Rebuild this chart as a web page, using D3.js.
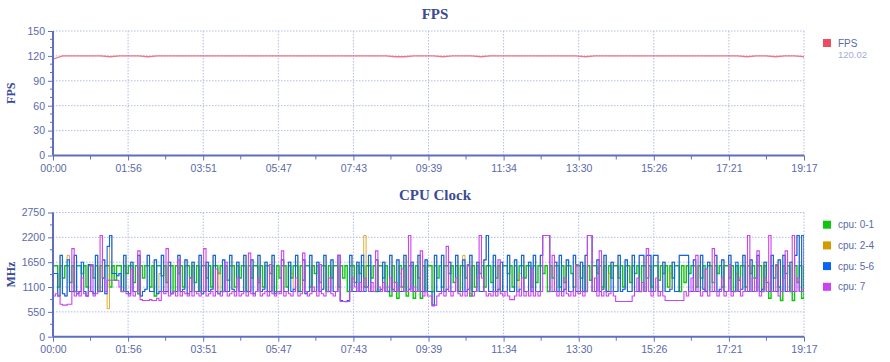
<!DOCTYPE html>
<html><head><meta charset="utf-8">
<script src="https://cdn.jsdelivr.net/npm/d3@7"></script>
<style>
html,body{margin:0;padding:0;background:#fff;}
svg{display:block;}
</style></head>
<body>
<svg id="c" width="890" height="362"></svg>
<script>
// ---------- DATA ----------
const durationSec = 1157;
const xTickSec = [0,115.7,231.4,347.1,462.8,578.5,694.2,809.9,925.6,1041.3,1157];
const xTickLabels = ["00:00","01:56","03:51","05:47","07:43","09:39","11:34","13:30","15:26","17:21","19:17"];
const fpsTicks = [0,30,60,90,120,150];
const cpuTicks = [0,550,1100,1650,2200,2750];
const fpsAvg = "120.02";

const fps = [116,120,120,120,120,120,119,120,120,120,119,120,120,120,120,120,120,120,120,120,
             120,120,120,120,120,120,120,120,120,120,120,120,120,120,120,120,119,119,120,120,
             120,119,120,120,120,119,120,120,120,120,120,120,120,120,120,120,119,120,120,120,
             120,120,120,120,120,120,120,120,120,120,120,120,120,119,120,120,119,120,120,119];

const cpu01 = [
1570,1570,1100,1570,1300,1570,1570,1200,1570,1000,1570,1570,1400,1570,1100,1570,1570,1300,1570,1000,
1570,1300,1570,1570,1100,1570,1250,1570,1570,1000,1570,1400,1570,1570,1200,1570,950,1570,1300,1570,
1570,1100,1570,900,1570,1570,1350,1570,1200,1570,1570,1000,1570,1400,1570,1100,1570,1570,1300,1570,
1200,1570,1000,1570,1570,1300,1570,1100,1570,1570,1400,1570,1000,1570,1250,1570,1570,1100,1570,1300,
1570,1570,1000,1570,1300,1570,1570,1200,1570,1100,1570,1570,1400,1570,1000,1570,1300,1570,1570,1100,
1570,1300,1570,1570,1000,1570,1250,1570,1570,1100,1570,1400,1570,1200,1570,1570,1000,1570,1300,1570,
1570,1100,1570,1300,1570,1000,1570,1570,1200,1570,1400,1570,1100,1570,1570,1300,1570,1000,1570,1570,
1300,1570,1000,900,1570,1200,850,1570,1100,1570,900,1570,1570,850,1570,1300,850,1570,1000,1570,
1570,1000,1570,1300,1570,1100,1570,1570,1400,1570,1200,1570,1000,1570,1570,1300,1570,900,1570,1100,
1570,1400,1570,1100,1570,1570,1200,1570,1300,1570,1000,1570,1570,1400,1570,1100,1570,1250,1570,1570,
1300,1570,1570,1100,1570,1200,1570,1570,1400,1570,1000,1570,1300,1570,1570,1100,1570,1200,1570,1570,
1400,1100,1570,1570,1300,1570,1000,1570,1250,1570,1570,1400,1570,1100,1570,1000,1570,1300,1570,1570,
1300,1570,1100,1570,1570,1200,1570,1400,1570,1000,1570,1570,1300,1570,1100,1570,1570,1250,1570,1400,
1570,1100,1570,1300,1570,1570,1000,1570,1200,1570,1400,1570,1570,1100,1570,1300,1570,1000,1570,1570,
1200,1570,1400,1570,1100,1570,1570,1300,1570,1000,1570,1250,1570,1570,1100,1570,1400,1570,1300,1570,
1570,1000,1570,1200,850,1570,1300,1570,1100,800,1570,1400,1570,1000,800,1570,1200,1570,850,1570];

const cpu24 = [
1400,1400,900,1800,950,900,1800,1000,1000,1800,950,1000,1400,1000,900,1600,1000,950,1800,1000,
1000,1700,950,620,2240,1400,1400,1350,1400,1000,1800,1000,950,1650,1000,1000,1800,900,1000,1050,
1800,1000,1000,1700,950,1400,1800,1000,1000,1650,950,1000,1000,1800,1000,1050,1700,950,1000,1650,
1000,1000,1800,950,1000,1650,1000,1050,1800,1000,1400,1000,1700,1000,1000,1800,1050,1000,1650,1000,
1000,1800,1000,1000,1700,950,1000,1800,1000,1050,1650,1000,1000,1800,950,1000,1000,1700,1000,1000,
1650,1400,1050,1800,1000,1000,1700,950,1000,1800,1000,1000,1650,1000,1050,1800,1000,1000,1700,1000,
1000,1800,800,780,780,800,1800,1000,1000,1650,1000,1800,2240,1100,1800,1000,1000,1700,1000,1050,
1650,1000,1000,1800,1050,1000,1700,1400,1000,1800,1000,1050,1650,1000,1000,1800,1000,1000,1700,1000,
1000,700,1800,1000,1000,1800,1000,1050,1650,1000,1000,1800,1000,1000,1800,1000,1050,1800,1000,1000,
1650,1000,1000,1700,2240,1000,1000,1800,1000,1050,1650,1000,1000,1800,1000,1000,1700,1000,1400,1800,
1000,1000,1650,1000,1800,1000,1000,1800,2240,2240,2240,1000,1000,1650,1000,1800,1000,1050,1700,1000,
1000,1800,1000,1000,1650,1000,1800,2240,2240,1000,1000,1700,1000,1050,1800,1000,1400,1650,1000,1000,
1800,1000,1050,1700,1000,1000,1800,1000,1000,1800,1800,1000,1800,1800,1000,1800,1800,1000,1000,1650,
1000,1000,1400,1650,1000,1000,1800,1800,1800,1800,1000,1000,1700,1000,1000,1800,1050,1000,1650,1000,
1000,1800,1000,1050,1700,1000,1000,1800,1000,1000,1400,1000,1050,1800,1000,1000,1700,1000,1000,1800,
1000,1050,1650,1000,1000,1800,1000,1000,1700,1000,1800,1000,1000,1650,1000,1800,2240,1000,2240,1000];

const cpu56 = [
1400,1400,900,1800,950,900,1700,1000,1000,1800,950,1000,1650,1000,900,1600,1000,950,1800,1000,
1000,1700,950,2000,2240,1400,1400,1350,1400,1000,1800,1000,950,1650,1000,1000,1800,900,1000,1050,
1800,1000,1000,1700,950,1000,1800,1000,1000,1650,950,1000,1000,1800,1000,1050,1700,950,1000,1650,
1000,1000,1800,950,1000,1650,1000,1050,1800,1000,950,1000,1700,1000,1000,1800,1050,1000,1650,1000,
1000,1800,1000,1000,1700,950,1000,1800,1000,1050,1650,1000,1000,1800,950,1000,1000,1700,1000,1000,
1650,1000,1050,1800,1000,1000,1700,950,1000,1800,1000,1000,1650,1000,1050,1800,1000,1000,1700,1000,
1000,1800,800,780,780,800,1800,1000,1000,1650,1000,1800,1000,1100,1800,1000,1000,1700,1000,1050,
1650,1000,1000,1800,1050,1000,1700,1000,1000,1800,1000,1050,1650,1000,1000,1800,1000,1000,1700,1000,
1000,700,1800,1000,1000,1800,1000,1050,1650,1000,1000,1800,1000,1000,1700,1000,1050,1800,1000,1000,
1650,1000,1000,1700,2240,1000,1000,1800,1000,1050,1650,1000,1000,1800,1000,1000,1700,1000,1050,1800,
1000,1000,1650,1000,1800,1000,1000,1800,2240,2240,2240,1000,1000,1650,1000,1800,1000,1050,1700,1000,
1000,1800,1000,1000,1650,1000,1800,2240,2240,1000,1000,1700,1000,1050,1800,1000,1000,1650,1000,1000,
1800,1000,1050,1700,1000,1000,1800,1000,1000,1800,1800,1000,1800,1800,1000,1800,1800,1000,1000,1650,
1000,1000,1050,1650,1000,1000,1800,1800,1800,1800,1000,1000,1700,1000,1000,1800,1050,1000,1650,1000,
1000,1800,1000,1050,1700,1000,1000,1800,1000,1000,1650,1000,1050,1800,1000,1000,1700,1000,1000,1800,
1000,1050,1650,1000,1000,1800,1000,1000,1700,1000,1800,1000,1000,1650,1000,1800,2240,1000,2240,1000];

const cpu7 = [
900,950,900,720,700,700,720,720,1950,900,1000,900,1300,950,900,1000,1600,900,950,1000,
2240,1300,1000,1250,1250,1250,1250,1250,1100,1000,1000,950,900,1500,900,1000,1900,820,800,800,
800,820,800,800,850,800,1000,950,1950,900,950,1000,900,1700,900,1000,950,900,1300,900,
1000,950,900,1000,1950,900,950,1000,900,1500,950,900,1000,1650,900,950,1000,900,1300,900,
950,1000,900,1850,950,900,1000,1300,900,950,1000,900,1600,950,900,1000,950,1900,900,1000,
950,900,1000,1300,900,950,1850,1000,900,950,1100,1000,900,1600,950,900,1000,1300,950,900,
1000,1800,780,780,775,780,1000,1300,1100,1000,1200,1000,1300,1100,1000,1200,1000,1900,1100,1000,
1200,1000,1100,1300,1000,1200,1000,1100,1500,1000,1000,2240,1000,1100,1000,1000,1900,900,1000,900,
900,680,700,900,950,1000,900,2000,1000,900,1000,1300,950,900,1000,900,1600,950,900,1000,
1300,2240,1300,1000,900,950,900,1000,900,1700,950,900,1000,900,820,820,900,1000,900,1300,
900,1000,900,1500,900,1000,900,1000,2240,2240,2240,1000,1800,1000,900,1000,900,1300,950,900,
1000,900,1600,950,1000,900,1000,2240,2240,1000,1300,900,1900,900,1000,900,950,1000,900,780,
780,780,780,780,780,780,900,1000,1300,1000,1200,1000,1950,1000,900,1000,1300,900,1000,900,
800,800,800,800,800,800,800,800,1000,900,1000,1300,1000,1800,1000,900,1000,1500,900,1000,
1950,1000,900,1000,1300,900,1000,1600,900,1000,1000,1300,900,1000,1000,2240,1000,1300,1000,1900,
900,1000,1300,1000,2240,1000,1000,1600,900,1000,1300,1900,1000,1000,2240,1000,1300,1000,1000,1100];

const cpuNames = ["cpu: 0-1","cpu: 2-4","cpu: 5-6","cpu: 7"];
const cpuColors = ["#11c411","#d49a00","#0a64f5","#cc44ee"];

// ---------- DRAW ----------
const svg = d3.select("#c");
const left = 53, right = 804;
const x = d3.scaleLinear().domain([0, durationSec]).range([left, right]);

const C = {title:"#3b4a94", tick:"#5b6aa8", axis:"#5f6fbf", grid:"#b3bbea"};

function panel(cfg){
  const y = d3.scaleLinear().domain(cfg.domain).range([cfg.bottom, cfg.top]);
  const g = svg.append("g");
  g.selectAll(".hg").data(cfg.ticks.filter(d=>d>cfg.domain[0])).enter().append("line")
    .attr("x1", left).attr("x2", right).attr("y1", d=>y(d)).attr("y2", d=>y(d))
    .attr("stroke", C.grid).attr("stroke-dasharray","1.5,1.5").attr("stroke-width",1);
  g.selectAll(".vg").data(xTickSec.slice(1)).enter().append("line")
    .attr("x1", d=>x(d)).attr("x2", d=>x(d)).attr("y1", cfg.top).attr("y2", cfg.bottom)
    .attr("stroke", C.grid).attr("stroke-dasharray","1.5,1.5").attr("stroke-width",1);
  g.append("text").attr("x", 435).attr("y", cfg.titleY).attr("text-anchor","middle")
    .attr("font-family","'Liberation Serif', serif").attr("font-weight","bold")
    .attr("font-size",15).attr("fill",C.title).text(cfg.title);
  g.append("text").attr("transform",`translate(15,${(cfg.top+cfg.bottom)/2}) rotate(-90)`)
    .attr("text-anchor","middle").attr("font-family","'Liberation Serif', serif")
    .attr("font-weight","bold").attr("font-size",12).attr("fill",C.title).text(cfg.ylabel);
  const clip = "clip"+cfg.id;
  svg.append("clipPath").attr("id",clip).append("rect")
    .attr("x",left).attr("y",cfg.top-2).attr("width",right-left).attr("height",cfg.bottom-cfg.top+2);
  const dg = g.append("g").attr("clip-path",`url(#${clip})`);
  cfg.series.forEach((s,k)=>{
    const n = s.values.length;
    const line = d3.line().x((d,i)=>x(i*durationSec/(n-1))).y(d=>y(d)).curve(cfg.curve);
    dg.append("path").attr("d", line(s.values)).attr("fill","none")
      .attr("stroke", s.color).attr("stroke-width", s.sw || cfg.sw).attr("stroke-opacity", s.op||1);
  });
  const ya = d3.axisLeft(y).tickValues(cfg.ticks).tickSize(5).tickPadding(3).tickFormat(d3.format("d"));
  const yg = g.append("g").attr("transform",`translate(${left},0)`).call(ya);
  const minorY = d3.range(cfg.domain[0], cfg.domain[1]+0.001, cfg.minor).filter(v=>!cfg.ticks.includes(v));
  yg.selectAll(".mn").data(minorY).enter().append("line")
    .attr("x1",-3).attr("x2",0).attr("y1",d=>y(d)).attr("y2",d=>y(d)).attr("stroke",C.axis);
  const xa = d3.axisBottom(x).tickValues(xTickSec).tickSize(5).tickPadding(4)
    .tickFormat((d,i)=>xTickLabels[i]);
  const xg = g.append("g").attr("transform",`translate(0,${cfg.bottom})`).call(xa);
  const minorX = xTickSec.slice(0,-1).map((d,i)=>(d+xTickSec[i+1])/2);
  xg.selectAll(".mnx").data(minorX).enter().append("line")
    .attr("x1",d=>x(d)).attr("x2",d=>x(d)).attr("y1",0).attr("y2",4).attr("stroke",C.axis);
  [yg,xg].forEach(a=>{
    a.select(".domain").attr("stroke",C.axis).attr("stroke-width",2);
    a.selectAll(".tick line").attr("stroke",C.axis).attr("stroke-width",1);
    a.selectAll("text").attr("fill",C.tick).attr("font-family","'Liberation Sans', sans-serif").attr("font-size",10.5);
  });
  xg.select(".domain").attr("d",`M${left},0H${right}`);
  yg.select(".domain").attr("d",`M0,${cfg.top}V${cfg.bottom}`);
  const lg = g.append("g");
  cfg.series.forEach((s,k)=>{
    const ly = cfg.legendY + k*20.7;
    lg.append("rect").attr("x",823).attr("y",ly-4).attr("width",8).attr("height",8).attr("fill",s.color);
    lg.append("text").attr("x",838).attr("y",ly+3.5).attr("font-family","'Liberation Sans', sans-serif")
      .attr("font-size",10).attr("fill",C.tick).text(s.name);
  });
  return {y, lg};
}

const p1 = panel({id:1, title:"FPS", titleY:19, ylabel:"FPS", domain:[0,150], top:31, bottom:155.5,
  ticks:fpsTicks, minor:10, curve:d3.curveLinear, sw:1.3,
  series:[{name:"FPS", values:fps, color:"#ee4d5f", op:0.75}], legendY:43});
p1.lg.append("text").attr("x",838).attr("y",58).attr("font-family","'Liberation Sans', sans-serif")
  .attr("font-size",9.5).attr("fill","#a3acd9").text(fpsAvg);

panel({id:2, title:"CPU Clock", titleY:200, ylabel:"MHz", domain:[0,2750], top:212.5, bottom:336.7,
  ticks:cpuTicks, minor:275, curve:d3.curveStepAfter, sw:1.1,
  series:[{name:cpuNames[0], values:cpu01, color:cpuColors[0], sw:1.4},
          {name:cpuNames[1], values:cpu24, color:cpuColors[1], sw:0.8},
          {name:cpuNames[2], values:cpu56, color:cpuColors[2], sw:1.1},
          {name:cpuNames[3], values:cpu7, color:cpuColors[3], sw:1.1}], legendY:224.7});
</script>
</body></html>
